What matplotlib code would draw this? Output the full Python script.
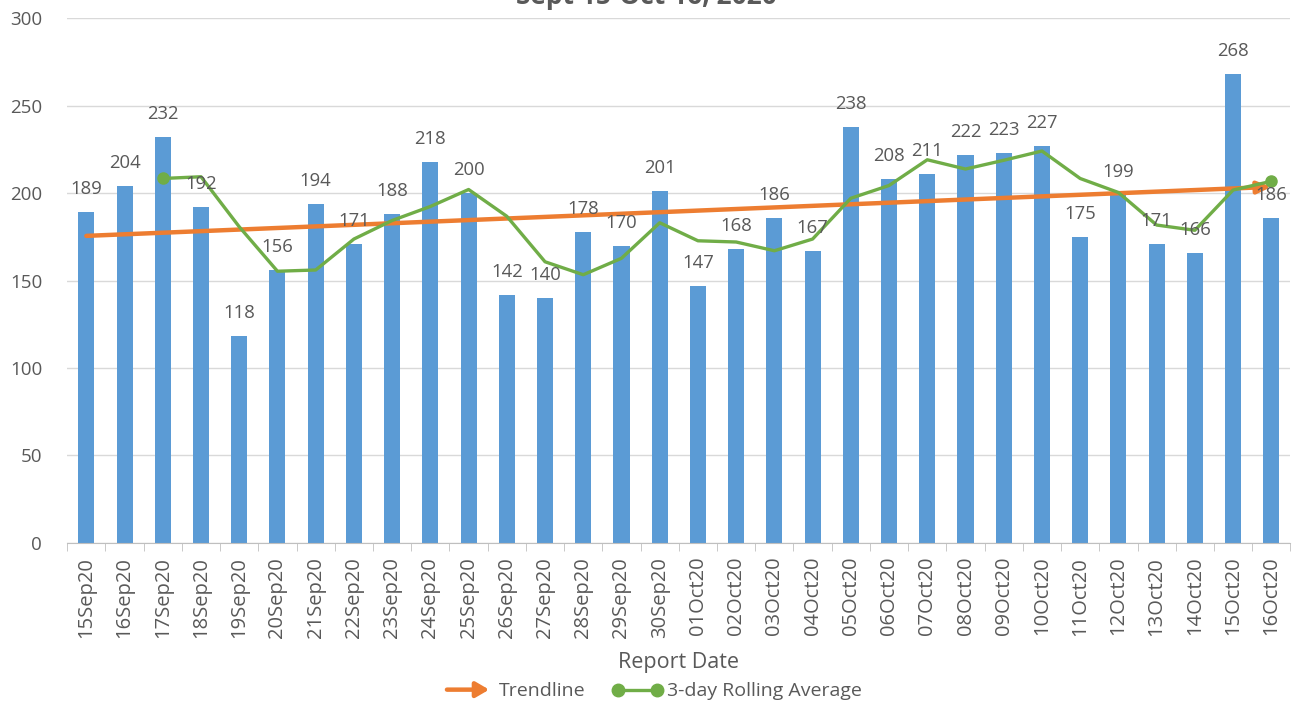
import numpy as np
import matplotlib
matplotlib.use("Agg")
import matplotlib.pyplot as plt
from matplotlib.lines import Line2D
from matplotlib.patches import FancyArrowPatch
from matplotlib.legend_handler import HandlerPatch

plt.rcParams['font.family'] = ['Open Sans', 'DejaVu Sans']

dates = ['15Sep20', '16Sep20', '17Sep20', '18Sep20', '19Sep20', '20Sep20', '21Sep20', '22Sep20',
         '23Sep20', '24Sep20', '25Sep20', '26Sep20', '27Sep20', '28Sep20', '29Sep20', '30Sep20',
         '01Oct20', '02Oct20', '03Oct20', '04Oct20', '05Oct20', '06Oct20', '07Oct20', '08Oct20',
         '09Oct20', '10Oct20', '11Oct20', '12Oct20', '13Oct20', '14Oct20', '15Oct20', '16Oct20']
cases = [189, 204, 232, 192, 118, 156, 194, 171, 188, 218, 200, 142, 140, 178, 170, 201,
         147, 168, 186, 167, 238, 208, 211, 222, 223, 227, 175, 199, 171, 166, 268, 186]
# 3-day rolling average, starts at 17Sep20
rolling = [208.3, 209.3, 180.7, 155.3, 156.0, 173.7, 184.3, 192.3, 202.0, 186.7, 160.7, 153.3,
           162.7, 183.0, 172.7, 172.0, 167.0, 173.7, 197.0, 204.3, 219.0, 213.7, 218.7, 224.0,
           208.3, 200.3, 181.7, 178.7, 201.7, 206.7]
trend_start = 175.5
trend_end = 203.5
title = 'Sept 15-Oct 16, 2020'

blue = '#5B9BD5'
green = '#70AD47'
orange = '#ED7D31'
txt = '#595959'

fig = plt.figure(figsize=(12.93, 7.07), dpi=100)
ax = fig.add_axes([0.052, 0.232, 0.946, 0.7425])

x = np.arange(len(dates))
ax.bar(x, cases, width=0.42, color=blue, zorder=2)
for xi, v in zip(x, cases):
    ax.text(xi, v + 8, str(v), ha='center', va='bottom', fontsize=13.3, color=txt, zorder=5)

ax.plot(x[2:], rolling, color=green, lw=2.4, marker='o', markersize=8,
        markevery=[0, len(rolling) - 1], zorder=4)

ax.annotate('', xy=(x[-1], trend_end), xytext=(x[0], trend_start),
            arrowprops=dict(arrowstyle='-|>,head_length=0.8,head_width=0.35', color=orange, lw=3.2,
                            shrinkA=0, shrinkB=0), zorder=3)

ax.set_xlim(-0.5, len(dates) - 0.5)
ax.set_ylim(0, 300)
ax.set_yticks(range(0, 301, 50))
ax.set_xticks(x)
ax.set_xticklabels(dates, rotation=90, fontsize=14.5, color=txt)
ax.set_xticks(np.arange(-0.5, len(dates), 1), minor=True)
ax.tick_params(axis='x', which='major', length=0, pad=10)
ax.tick_params(axis='x', which='minor', length=6, color='#BFBFBF')
ax.tick_params(axis='y', length=0, labelsize=13.5, labelcolor=txt, pad=18)
ax.grid(axis='y', color='#D9D9D9', lw=1, zorder=0)
for s in ['top', 'right', 'left']:
    ax.spines[s].set_visible(False)
ax.spines['bottom'].set_color('#BFBFBF')
ax.set_xlabel('Report Date', fontsize=15.5, color=txt, labelpad=10)

fig.text(0.5, 0.995, title, ha='center', va='baseline', fontsize=19, fontweight='bold', color=txt)


class ArrowHandler(HandlerPatch):
    def create_artists(self, legend, orig_handle, xdescent, ydescent, width, height, fontsize, trans):
        a = FancyArrowPatch((-xdescent, height / 2), (width - xdescent - 2, height / 2),
                            arrowstyle='-|>,head_length=0.6,head_width=0.35', color=orange, lw=3.2,
                            mutation_scale=13, transform=trans)
        return [a]


trend_handle = FancyArrowPatch((0, 0), (1, 0), color=orange)
roll_handle = Line2D([], [], color=green, lw=2.4, marker='o', markersize=9)
fig.legend([trend_handle, roll_handle], ['Trendline', '3-day Rolling Average'],
           handler_map={FancyArrowPatch: ArrowHandler()}, numpoints=2,
           loc='center', bbox_to_anchor=(0.505, 0.022), ncol=2, frameon=False,
           fontsize=14, labelcolor=txt, handlelength=2.6, columnspacing=1.4, handletextpad=0.2)

fig.savefig('out.png', dpi=100)
